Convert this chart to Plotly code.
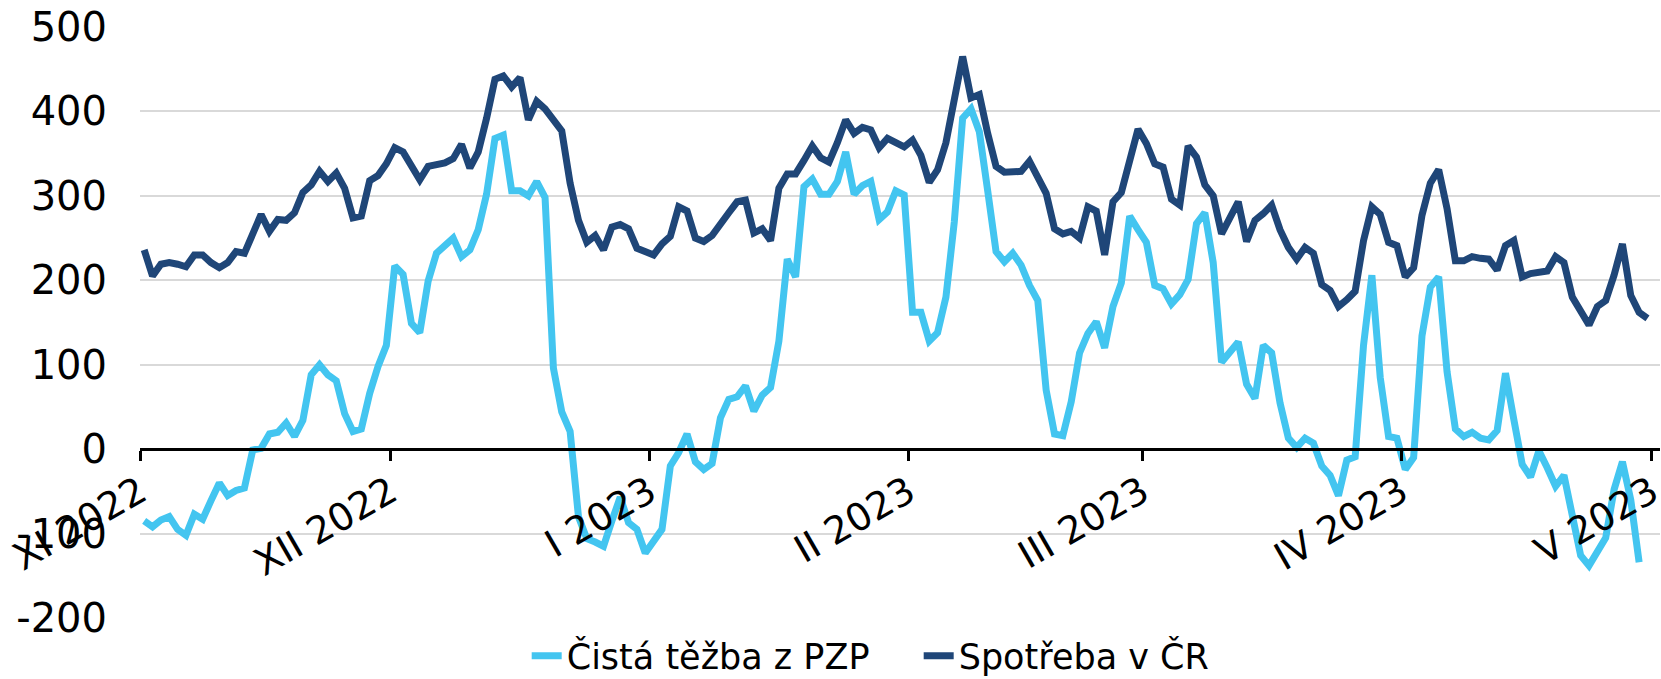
import pandas as pd
import plotly.graph_objects as go

# Daily dates, 1 Nov 2022 .. 30 Apr 2023
dates = pd.date_range("2022-11-01", "2023-04-30", freq="D")

# Čistá těžba z PZP (net withdrawal from underground gas storage)
tezba = [
    -85, -92, -84, -80, -95, -102, -77, -83, -61, -40,
    -55, -49, -46, -1, 1, 18, 20, 31, 15, 34,
    88, 100, 88, 81, 42, 21, 24, 66, 98, 123,
    217, 207, 149, 138, 199, 232, 241, 250, 228, 236,
    260, 302, 368, 372, 306, 306, 300, 317, 298, 96,
    44, 21, -80, -106, -110, -115, -85, -57, -87, -95,
    -123, -110, -95, -20, -4, 18, -15, -24, -17, 37,
    59, 62, 75, 45, 64, 73, 128, 225, 204, 311,
    320, 302, 302, 317, 352, 302, 312, 317, 272, 281,
    306, 301, 162, 162, 128, 138, 180, 269, 392, 403,
    376, 306, 234, 222, 232, 218, 194, 176, 70, 18,
    16, 56, 114, 137, 151, 120, 169, 197, 276, 260,
    245, 194, 190, 172, 183, 201, 267, 280, 221, 103,
    116, 127, 77, 60, 123, 114, 55, 13, 2, 13,
    7, -20, -31, -55, -13, -9, 123, 206, 85, 15,
    13, -24, -10, 134, 192, 204, 92, 24, 15, 20,
    13, 11, 22, 90, 35, -18, -33, -2, -22, -44,
    -31, -81, -126, -138, -123, -105, -48, -15, -60, -134,
    None,
]

# Spotřeba v ČR (consumption in the Czech Republic)
spotreba = [
    236, 205, 219, 221, 219, 216, 230, 230, 221, 215,
    221, 234, 232, 255, 278, 258, 272, 271, 280, 304,
    313, 329, 317, 327, 309, 274, 276, 318, 324, 338,
    357, 352, 335, 319, 335, 336, 339, 344, 361, 333,
    352, 392, 438, 442, 429, 440, 390, 412, 403, 390,
    377, 315, 271, 245, 253, 236, 263, 266, 261, 238,
    233, 230, 243, 252, 287, 282, 250, 246, 253, 265,
    280, 293, 295, 256, 261, 247, 309, 326, 326, 342,
    359, 345, 340, 363, 390, 374, 381, 378, 357, 368,
    363, 358, 366, 348, 316, 331, 363, 412, 465, 416,
    420, 374, 335, 328, 328, 329, 341, 324, 303, 261,
    255, 258, 250, 287, 282, 230, 293, 304, 346, 379,
    362, 338, 334, 296, 289, 359, 346, 313, 300, 255,
    274, 293, 246, 271, 279, 289, 260, 239, 225, 239,
    232, 195, 188, 169, 177, 187, 247, 287, 278, 245,
    241, 204, 215, 277, 315, 331, 285, 223, 223, 228,
    226, 225, 212, 241, 247, 204, 208, 210, 211, 228,
    221, 180, 162, 147, 169, 176, 206, 243, 182, 162,
    155,
]

month_ticks = ["2022-11-01", "2022-12-01", "2023-01-01", "2023-02-01",
               "2023-03-01", "2023-04-01", "2023-05-01"]
month_labels = ["XI 2022", "XII 2022", "I 2023", "II 2023",
                "III 2023", "IV 2023", "V 2023"]

y_ticks = [-200, -100, 0, 100, 200, 300, 400, 500]
y_labels = ["-200", "-100", "0", "100", "200", "300", "400", "500"]

LIGHT = "#43C5F0"
DARK = "#1F4678"
FONT = "DejaVu Sans"

# points sit in the middle of each day's slot (Excel date axis style)
xpos = dates + pd.Timedelta(hours=12)

fig = go.Figure()
fig.add_trace(go.Scatter(x=xpos, y=tezba, mode="lines", name="Čistá těžba z PZP",
                         line=dict(color=LIGHT, width=7, shape="linear"),
                         connectgaps=False))
fig.add_trace(go.Scatter(x=xpos, y=spotreba, mode="lines", name="Spotřeba v ČR",
                         line=dict(color=DARK, width=7, shape="linear")))

ymin, ymax = -200, 500

fig.update_layout(
    width=1661, height=679,
    margin=dict(l=140, r=1, t=27, b=61, autoexpand=False),
    paper_bgcolor="white", plot_bgcolor="white",
    font=dict(family=FONT, size=36, color="black"),
    showlegend=True,
    legend=dict(orientation="h", xanchor="left", x=0.2544,
                yref="container", yanchor="middle", y=0.034,
                font=dict(family=FONT, size=35, color="black"),
                entrywidth=347, entrywidthmode="pixels",
                bgcolor="rgba(0,0,0,0)", itemwidth=30, tracegroupgap=0),
    xaxis=dict(
        type="date",
        range=["2022-11-01", "2023-05-02"],
        tickmode="array", tickvals=month_ticks, ticktext=month_labels,
        tickangle=-30,
        ticks="outside", ticklen=10, tickwidth=3, tickcolor="black",
        showline=True, linecolor="black", linewidth=3,
        showgrid=False, zeroline=False,
        anchor="free", position=(0 - ymin) / (ymax - ymin),
        tickfont=dict(family=FONT, size=38, color="black"),
        ticklabeloverflow="allow", ticklabelstandoff=-6,
        automargin=False, layer="above traces",
    ),
    yaxis=dict(
        range=[ymin, ymax], domain=[0, 1],
        tickmode="array", tickvals=y_ticks, ticktext=y_labels,
        showgrid=True, gridcolor="#D9D9D9", gridwidth=2,
        zeroline=False, showline=False, ticks="",
        ticklabelstandoff=32,
        tickfont=dict(family=FONT, size=40, color="black"),
        automargin=False,
    ),
)

fig.write_html("out.html", config={"displayModeBar": False},
               post_script="document.body.style.margin='0px';")
